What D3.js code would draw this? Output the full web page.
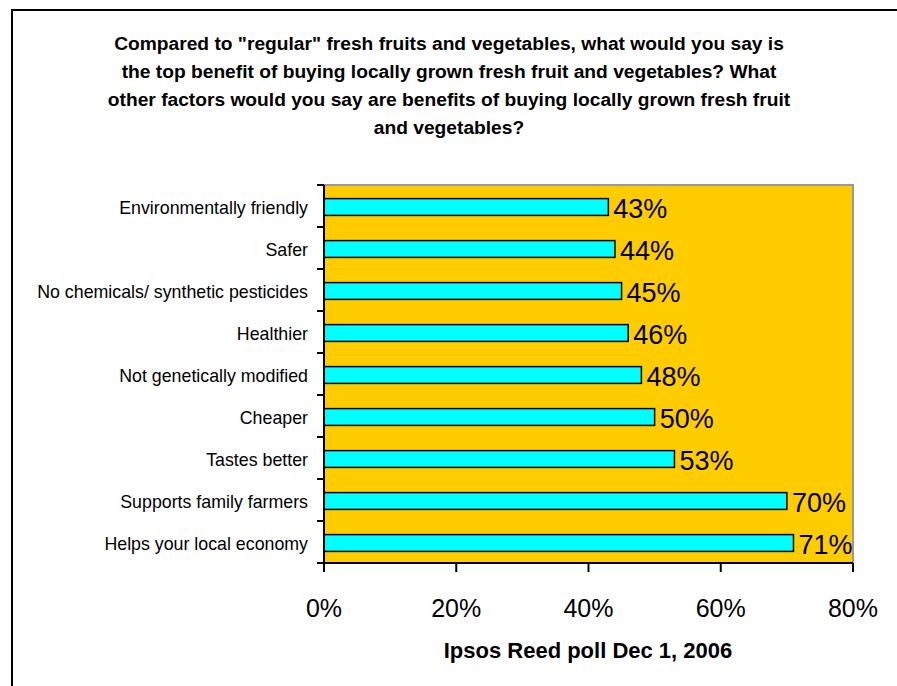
<!DOCTYPE html>
<html><head><meta charset="utf-8">
<script src="https://cdn.jsdelivr.net/npm/d3@7"></script>
<style>body{margin:0;background:#fff;}svg{display:block;font-family:"Liberation Sans",Arial,sans-serif;}</style>
</head><body>
<svg id="c" width="897" height="686"></svg>
<script>
const categories = ["Environmentally friendly","Safer","No chemicals/ synthetic pesticides","Healthier","Not genetically modified","Cheaper","Tastes better","Supports family farmers","Helps your local economy"];
const values = [43,44,45,46,48,50,53,70,71];
const xTicks = [0,20,40,60,80];
const titleLines = ["Compared to \"regular\" fresh fruits and vegetables, what would you say is","the top benefit of buying locally grown fresh fruit and vegetables? What","other factors would you say are benefits of buying locally grown fresh fruit","and vegetables?"];
const xTitle = "Ipsos Reed poll Dec 1, 2006";

const svg = d3.select("#c");
svg.append("rect").attr("x",12).attr("y",10).attr("width",900).attr("height",700).attr("fill","none").attr("stroke","#000").attr("stroke-width",2);

const L=324,R=853,T=185,B=563;
const x = d3.scaleLinear().domain([0,80]).range([L,R]);
const y = d3.scaleBand().domain(categories).range([T+1,B+1]).paddingInner(0.6).paddingOuter(0.3);
const yb = d3.scaleBand().domain(categories).range([T,B]);

svg.append("g").selectAll("text").data(titleLines).join("text")
  .attr("x",449).attr("y",(d,i)=>50+i*28).attr("text-anchor","middle")
  .attr("font-weight","bold").attr("font-size",19.2).text(d=>d);

svg.append("rect").attr("x",L).attr("y",T).attr("width",R-L).attr("height",B-T).attr("fill","#FFCC00");
svg.append("path").attr("d",`M${L},${T}H${R}V${B}`).attr("fill","none").attr("stroke","#999").attr("stroke-width",2);

svg.append("g").selectAll("rect").data(values).join("rect")
  .attr("x",x(0)).attr("y",(d,i)=>y(categories[i])).attr("width",d=>x(d)-x(0)).attr("height",y.bandwidth())
  .attr("fill","#00FFFF").attr("stroke","#000").attr("stroke-width",1.5);

svg.append("g").selectAll("text").data(values).join("text")
  .attr("x",d=>x(d)+5).attr("y",(d,i)=>y(categories[i])+y.bandwidth()/2+11).attr("font-size",27).text(d=>d+"%");

// y axis
const ya = svg.append("g");
ya.append("line").attr("x1",L).attr("x2",L).attr("y1",T).attr("y2",B+9).attr("stroke","#000").attr("stroke-width",2);
ya.selectAll("line.t").data(categories.map(c=>yb(c)).concat([B])).join("line").attr("class","t")
  .attr("x1",L-7).attr("x2",L).attr("y1",d=>d).attr("y2",d=>d).attr("stroke","#000").attr("stroke-width",2);
ya.selectAll("text").data(categories).join("text")
  .attr("x",308).attr("y",d=>y(d)+y.bandwidth()/2+7).attr("text-anchor","end").attr("font-size",17.8).text(d=>d);

// x axis
const xa = svg.append("g");
xa.append("line").attr("x1",L-7).attr("x2",R).attr("y1",B).attr("y2",B).attr("stroke","#000").attr("stroke-width",2);
xa.selectAll("line.t").data(xTicks).join("line").attr("class","t")
  .attr("x1",d=>x(d)).attr("x2",d=>x(d)).attr("y1",B).attr("y2",B+9).attr("stroke","#000").attr("stroke-width",2);
xa.selectAll("text").data(xTicks).join("text")
  .attr("x",d=>x(d)).attr("y",617).attr("text-anchor","middle").attr("font-size",25).text(d=>d+"%");

svg.append("text").attr("x",588).attr("y",658).attr("text-anchor","middle").attr("font-weight","bold").attr("font-size",22).text(xTitle);
</script>
</body></html>
